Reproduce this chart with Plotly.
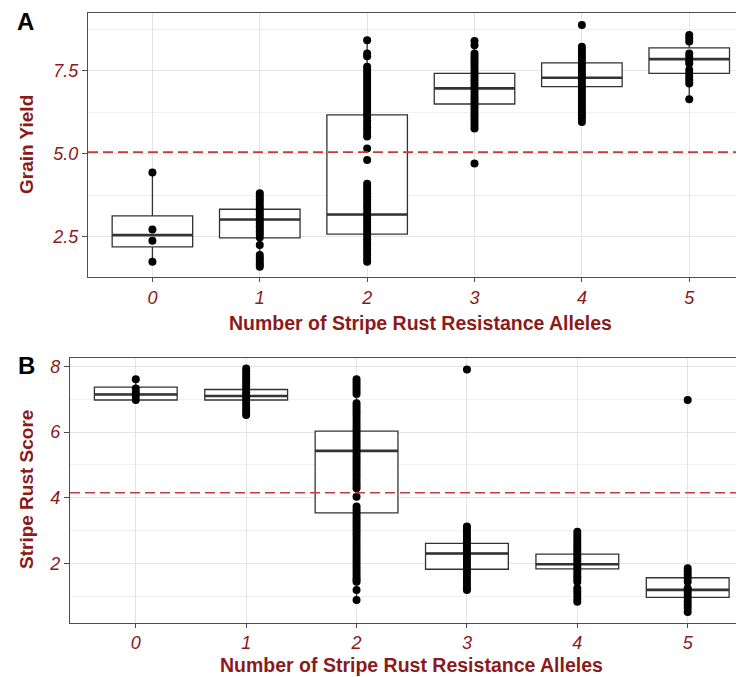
import plotly.graph_objects as go

# ---------------- data ----------------
alleles = [0, 1, 2, 3, 4, 5]
tick_labels = ["0", "1", "2", "3", "4", "5"]

# Panel A: Grain Yield box statistics
yield_q1 = [2.20, 2.47, 2.58, 6.50, 7.02, 7.42]
yield_median = [2.55, 3.02, 3.17, 6.97, 7.29, 7.85]
yield_q3 = [3.13, 3.33, 6.17, 7.42, 7.74, 8.19]
yield_lower = [1.75, 1.60, 1.75, 5.76, 5.94, 6.64]
yield_upper = [4.44, 3.81, 8.42, 8.40, 8.22, 8.58]
yield_threshold = 5.05

# Panel A: observed points per allele count
yield_pts_0 = [4.44, 2.72, 2.38, 1.75]
yield_pts_1 = [3.81, 3.72, 3.63, 3.55, 3.46, 3.38, 3.30, 3.22, 3.14, 3.06, 2.98,
               2.90, 2.82, 2.74, 2.66, 2.58, 2.48, 2.25, 1.95, 1.87, 1.80, 1.72,
               1.65, 1.60]
yield_pts_2 = [8.42, 8.02, 7.94, 7.62, 7.53, 7.44, 7.35, 7.26, 7.17, 7.08, 6.99,
               6.90, 6.81, 6.72, 6.63, 6.54, 6.45, 6.36, 6.27, 6.18, 6.11, 6.00,
               5.90, 5.80, 5.70, 5.60, 5.52, 5.16, 4.81, 4.10, 4.01, 3.91, 3.81,
               3.71, 3.62, 3.52, 3.42, 3.32, 3.22, 3.12, 3.02, 2.93, 2.83, 2.73,
               2.63, 2.53, 2.43, 2.33, 2.24, 2.14, 2.04, 1.94, 1.84, 1.75]
yield_pts_3 = [8.40, 8.27, 8.02, 7.93, 7.85, 7.76, 7.68, 7.59, 7.50, 7.42, 7.33,
               7.24, 7.16, 7.07, 6.98, 6.90, 6.81, 6.72, 6.64, 6.55, 6.46, 6.38,
               6.29, 6.20, 6.12, 6.03, 5.94, 5.85, 5.76, 4.71]
yield_pts_4 = [8.88, 8.22, 8.13, 8.04, 7.95, 7.86, 7.77, 7.68, 7.59, 7.50, 7.41,
               7.32, 7.23, 7.14, 7.05, 6.96, 6.87, 6.78, 6.69, 6.60, 6.51, 6.42,
               6.33, 6.24, 6.15, 6.06, 5.96]
yield_pts_5 = [8.58, 8.48, 8.38, 8.02, 7.92, 7.80, 7.72, 7.52, 7.42, 7.32, 7.22,
               7.12, 6.64]

# Panel B: Stripe Rust Score box statistics
rust_q1 = [6.98, 6.98, 3.54, 1.82, 1.83, 0.96]
rust_median = [7.15, 7.10, 5.43, 2.30, 1.97, 1.19]
rust_q3 = [7.37, 7.30, 6.03, 2.61, 2.28, 1.56]
rust_lower = [6.98, 6.52, 0.88, 1.19, 1.24, 0.52]
rust_upper = [7.61, 7.78, 7.61, 3.12, 2.96, 1.85]
rust_threshold = 4.15

# Panel B: observed points per allele count
rust_pts_0 = [7.61, 7.33, 7.22, 7.10, 6.98]
rust_pts_1 = [7.94, 7.85, 7.76, 7.67, 7.58, 7.49, 7.40, 7.31, 7.22, 7.13, 7.04,
              6.95, 6.86, 6.77, 6.68, 6.60, 6.52]
rust_pts_2 = [7.61, 7.52, 7.43, 7.34, 7.25, 7.16, 6.88, 6.79, 6.70, 6.61, 6.52,
              6.43, 6.34, 6.25, 6.16, 6.07, 5.98, 5.89, 5.80, 5.71, 5.62, 5.53,
              5.44, 5.35, 5.26, 5.17, 5.08, 4.99, 4.90, 4.81, 4.72, 4.63, 4.54,
              4.45, 4.37, 4.29, 4.03, 3.73, 3.64, 3.55, 3.46, 3.37, 3.28, 3.19,
              3.10, 3.01, 2.92, 2.83, 2.74, 2.65, 2.56, 2.47, 2.38, 2.29, 2.20,
              2.11, 2.02, 1.93, 1.84, 1.75, 1.66, 1.57, 1.50, 1.44, 1.19, 0.88]
rust_pts_3 = [7.91, 3.12, 3.03, 2.94, 2.85, 2.76, 2.67, 2.58, 2.49, 2.40, 2.31,
              2.22, 2.13, 2.04, 1.95, 1.86, 1.77, 1.68, 1.59, 1.50, 1.41, 1.32,
              1.24, 1.19]
rust_pts_4 = [2.96, 2.87, 2.78, 2.69, 2.60, 2.51, 2.42, 2.33, 2.24, 2.15, 2.06,
              1.97, 1.88, 1.79, 1.70, 1.61, 1.52, 1.44, 1.24, 1.14, 1.04, 0.93,
              0.83]
rust_pts_5 = [6.98, 1.85, 1.75, 1.65, 1.55, 1.44, 1.24, 1.14, 1.04, 0.94, 0.84,
              0.74, 0.64, 0.52]

yield_points = [yield_pts_0, yield_pts_1, yield_pts_2, yield_pts_3, yield_pts_4, yield_pts_5]
rust_points = [rust_pts_0, rust_pts_1, rust_pts_2, rust_pts_3, rust_pts_4, rust_pts_5]

# ---------------- style ----------------
OFF = 8                 # page body margin in the browser
W, H = 744 - OFF, 677 - OFF
DARKRED = "#8B1A1A"
LINE = "#333333"
AXLINE = "#4D4D4D"
FONT = "Liberation Sans, Arial, sans-serif"
BOX_HALF = 0.375


def px(x):
    return (x - OFF) / W


def py(y):
    return 1 - (y - OFF) / H


fig = go.Figure()


def add_panel(xa, ya, q1, med, q3, lo, hi, points):
    fig.add_trace(go.Box(
        x=alleles, q1=q1, median=med, q3=q3, lowerfence=lo, upperfence=hi,
        width=0.75, whiskerwidth=0, fillcolor="white",
        line=dict(color=LINE, width=1.3), boxpoints=False,
        xaxis=xa, yaxis=ya, showlegend=False, hoverinfo="skip"))
    # thicker median bars (ggplot fatten)
    mx, my = [], []
    for a, m in zip(alleles, med):
        mx += [a - BOX_HALF, a + BOX_HALF, None]
        my += [m, m, None]
    fig.add_trace(go.Scatter(x=mx, y=my, mode="lines",
                             line=dict(color=LINE, width=2.6),
                             xaxis=xa, yaxis=ya, showlegend=False, hoverinfo="skip"))
    for a, pts in zip(alleles, points):
        fig.add_trace(go.Scatter(x=[a] * len(pts), y=pts, mode="markers",
                                 marker=dict(color="black", size=8),
                                 xaxis=xa, yaxis=ya, showlegend=False))


add_panel("x", "y", yield_q1, yield_median, yield_q3, yield_lower, yield_upper, yield_points)
add_panel("x2", "y2", rust_q1, rust_median, rust_q3, rust_lower, rust_upper, rust_points)

tickfont = dict(family=FONT, size=18, color=DARKRED, style="italic")
common_x = dict(tickvals=alleles, ticktext=tick_labels, showgrid=True,
                gridcolor="#E4E4E4", gridwidth=1, showline=True, linecolor=AXLINE,
                linewidth=1.3, mirror=True, ticks="outside", ticklen=4,
                tickcolor=AXLINE, tickwidth=1.3, tickfont=tickfont, zeroline=False)
common_y = dict(showgrid=True, gridcolor="#E4E4E4", gridwidth=1, showline=True,
                linecolor=AXLINE, linewidth=1.3, mirror=False, ticks="outside",
                ticklen=5, tickcolor=AXLINE, tickwidth=1.3, tickfont=tickfont,
                zeroline=False)

fig.update_layout(
    width=W, height=H, margin=dict(l=0, r=0, t=0, b=0),
    paper_bgcolor="white", plot_bgcolor="white",
    xaxis=dict(domain=[px(88), 1], range=[-0.6, 5.51], anchor="y", **common_x),
    yaxis=dict(domain=[py(277), py(13)], range=[1.29, 9.24], anchor="x",
               tick0=0, dtick=2.5, tickformat=".1f",
               minor=dict(tick0=0, dtick=1.25, showgrid=True, gridcolor="#F0F0F0",
                          ticks=""), **common_y),
    xaxis2=dict(domain=[px(70), 1], range=[-0.596, 5.51], anchor="y2", **common_x),
    yaxis2=dict(domain=[py(622.7), py(357.7)], range=[0.19, 8.27], anchor="x2",
                tick0=0, dtick=2,
                minor=dict(tick0=0, dtick=1, showgrid=True, gridcolor="#F0F0F0",
                           ticks=""), **common_y),
    shapes=[
        dict(type="line", xref="x domain", yref="y", x0=0, x1=1,
             y0=yield_threshold, y1=yield_threshold,
             line=dict(color="#C83A3A", width=1.6, dash="10px,5px")),
        dict(type="line", xref="x2 domain", yref="y2", x0=0, x1=1,
             y0=rust_threshold, y1=rust_threshold,
             line=dict(color="#C83A3A", width=1.6, dash="10px,5px")),
    ],
)

title_font = dict(family=FONT, size=19.5, color=DARKRED, weight="bold")
ytitle_font = dict(family=FONT, size=19, color=DARKRED, weight="bold")
letter_font = dict(family=FONT, size=24, color="black", weight="bold")

ann = [
    dict(text="A", x=px(25), y=py(22), yanchor="middle", font=letter_font),
    dict(text="B", x=px(26), y=py(366), yanchor="middle", font=letter_font),
    dict(text="Grain Yield", x=px(27), y=py(145), yanchor="middle",
         textangle=-90, font=ytitle_font),
    dict(text="Stripe Rust Score", x=px(26), y=py(490), yanchor="middle",
         textangle=-90, font=ytitle_font),
    dict(text="Number of Stripe Rust Resistance Alleles", x=px(420), y=py(323),
         yanchor="middle", font=title_font),
    dict(text="Number of Stripe Rust Resistance Alleles", x=px(411.5), y=0,
         yanchor="bottom", borderpad=0, font=title_font),
]
for a in ann:
    fig.add_annotation(xref="paper", yref="paper", showarrow=False,
                       xanchor="center", **a)

fig.write_html("out.html")
